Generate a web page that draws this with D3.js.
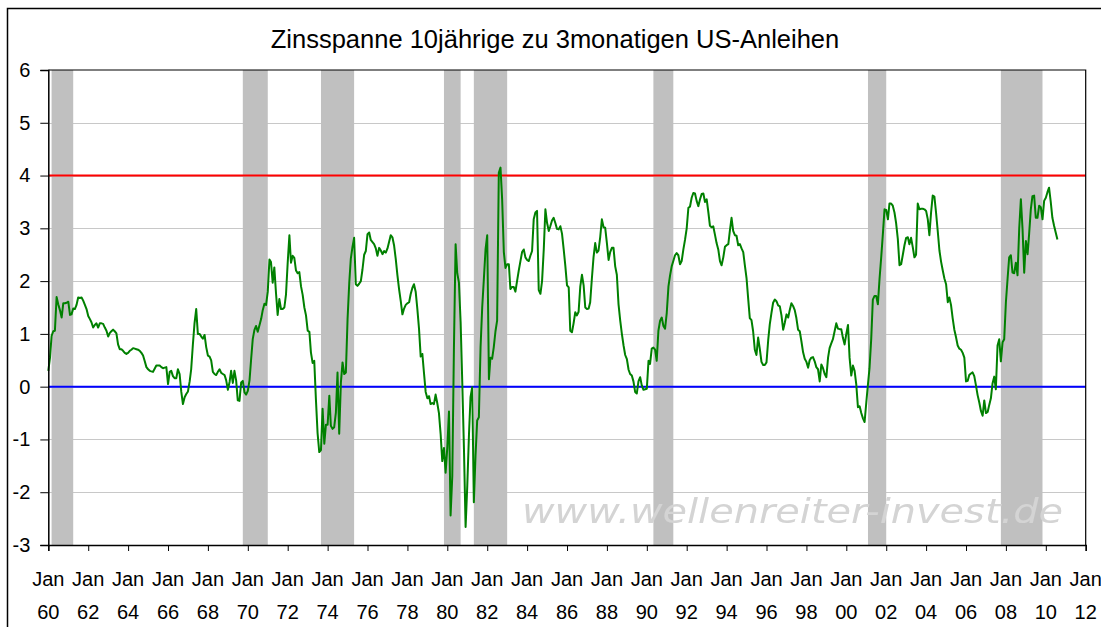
<!DOCTYPE html>
<html>
<head>
<meta charset="utf-8">
<script src="https://cdn.jsdelivr.net/npm/d3@7"></script>
<style>
  body { margin: 0; background: #fff; }
  svg { display: block; }
  text { font-family: "Liberation Sans", Arial, sans-serif; fill: #000; }
</style>
</head>
<body>
<div id="chart"></div>
<script>
// spread 10y minus 3m US treasuries, monthly values
const title = "Zinsspanne 10jährige zu 3monatigen US-Anleihen";
const firstMonth = "1960-01";

const spread1960s = [
  0.30, 0.55, 0.96, 1.05, 1.06, 1.70, 1.56, 1.45, 1.31, 1.58, 1.58, 1.59,
  1.61, 1.36, 1.37, 1.48, 1.47, 1.55, 1.69, 1.68, 1.69, 1.63, 1.55, 1.47,
  1.34, 1.28, 1.22, 1.12, 1.17, 1.20, 1.12, 1.20, 1.20, 1.19, 1.12, 1.06,
  0.95, 1.02, 1.05, 1.08, 1.05, 1.01, 0.80, 0.71, 0.71, 0.68, 0.64, 0.62,
  0.64, 0.68, 0.70, 0.73, 0.72, 0.71, 0.70, 0.68, 0.64, 0.59, 0.48, 0.37,
  0.33, 0.30, 0.29, 0.28, 0.34, 0.40, 0.40, 0.40, 0.37, 0.35, 0.36, 0.37,
  0.05, 0.28, 0.30, 0.20, 0.16, 0.16, 0.33, 0.24, -0.10, -0.33, -0.20, -0.14,
  -0.09, 0.10, 0.33, 0.80, 1.20, 1.47, 1.00, 1.00, 0.95, 0.91, 0.98, 0.75,
  0.59, 0.57, 0.50, 0.28, 0.24, 0.22, 0.28, 0.33, 0.26, 0.24, 0.22, 0.12,
  -0.06, 0.09, 0.30, 0.07, 0.30, 0.12, -0.26, -0.27, 0.08, 0.11, -0.11, -0.15
];
const spread1970s = [
  -0.08, 0.12, 0.50, 0.90, 1.07, 1.15, 1.04, 1.16, 1.28, 1.45, 1.57, 1.55,
  1.80, 2.41, 2.36, 1.97, 2.26, 1.77, 1.36, 1.66, 1.47, 1.47, 1.50, 1.75,
  2.35, 2.87, 2.35, 2.48, 2.44, 2.20, 2.15, 2.17, 1.90, 1.74, 1.50, 1.35,
  1.06, 1.04, 0.65, 0.45, 0.49, -0.25, -0.88, -1.24, -1.20, -0.42, -1.08, -0.72,
  -0.72, -0.17, -0.74, -0.80, -0.77, -0.49, 0.27, -0.89, 0.08, 0.46, 0.24, 0.27,
  1.28, 1.97, 2.42, 2.65, 2.82, 1.94, 1.91, 1.95, 2.00, 2.22, 2.50, 2.57,
  2.89, 2.92, 2.78, 2.74, 2.70, 2.62, 2.48, 2.63, 2.58, 2.51, 2.57, 2.54,
  2.62, 2.75, 2.87, 2.83, 2.68, 2.42, 2.12, 1.85, 1.62, 1.37, 1.48, 1.55,
  1.58, 1.60, 1.75, 1.87, 1.94, 1.80, 1.48, 1.10, 0.57, 0.62, 0.25, -0.10,
  -0.22, -0.18, -0.33, -0.31, -0.33, -0.15, -0.31, -0.50, -0.90, -1.41, -1.16, -1.63
];
const spread1980s = [
  -1.15, -0.47, -2.44, -1.70, 0.70, 2.70, 2.15, 1.97, 1.22, 0.08, -1.18, -2.66,
  -1.87, -0.90, -0.20, -0.01, -2.19, -1.30, -0.64, -0.58, 0.75, 1.50, 2.05, 2.60,
  2.87, 0.14, 0.55, 0.53, 0.75, 1.05, 1.25, 4.05, 4.15, 3.55, 2.55, 2.25,
  2.32, 2.32, 1.85, 1.89, 1.89, 1.80, 2.00, 2.20, 2.38, 2.55, 2.60, 2.45,
  2.40, 2.38, 2.48, 2.57, 3.17, 3.30, 3.33, 1.83, 1.76, 2.00, 2.60, 3.36,
  3.10, 2.95, 3.04, 3.15, 3.20, 3.10, 2.99, 2.98, 3.04, 2.90, 2.60, 2.29,
  1.92, 1.88, 1.06, 1.03, 1.20, 1.41, 1.35, 1.42, 1.90, 2.12, 1.92, 1.50,
  1.47, 1.48, 1.60, 2.05, 2.45, 2.72, 2.54, 2.58, 2.84, 3.17, 3.02, 3.01,
  2.72, 2.40, 2.55, 2.63, 2.63, 2.28, 2.12, 1.56, 1.25, 1.00, 0.78, 0.60,
  0.52, 0.32, 0.24, 0.21, 0.10, -0.10, -0.13, 0.10, 0.18, 0.02, -0.06, -0.05
];
const spread1990s = [
  -0.04, 0.49, 0.43, 0.72, 0.74, 0.70, 0.49, 1.06, 1.25, 1.31, 1.15, 1.10,
  1.40, 1.90, 2.10, 2.28, 2.38, 2.49, 2.53, 2.49, 2.32, 2.38, 2.60, 2.78,
  3.00, 3.39, 3.41, 3.58, 3.67, 3.66, 3.52, 3.42, 3.55, 3.65, 3.66, 3.50,
  3.55, 3.30, 3.05, 3.02, 3.04, 2.88, 2.72, 2.60, 2.38, 2.30, 2.45, 2.65,
  2.68, 2.70, 2.95, 3.20, 2.95, 2.87, 2.86, 2.68, 2.70, 2.62, 2.55, 2.30,
  2.05, 1.65, 1.30, 1.26, 1.05, 0.70, 0.60, 0.93, 0.71, 0.47, 0.41, 0.41,
  0.46, 0.88, 1.18, 1.40, 1.59, 1.65, 1.62, 1.54, 1.52, 1.35, 1.08, 1.21,
  1.37, 1.31, 1.45, 1.58, 1.53, 1.45, 1.30, 1.08, 1.05, 0.86, 0.65, 0.53,
  0.47, 0.36, 0.50, 0.55, 0.56, 0.48, 0.37, 0.33, 0.10, 0.42, 0.35, 0.24,
  0.18, 0.55, 0.73, 0.82, 0.90, 1.05, 1.20, 1.10, 1.09, 1.09, 0.92, 0.80
];
const spread2000s = [
  1.00, 1.17, 0.55, 0.21, 0.40, 0.30, 0.05, -0.39, -0.37, -0.50, -0.60, -0.67,
  -0.30, 0.05, 0.35, 0.90, 1.65, 1.72, 1.72, 1.56, 2.05, 2.45, 2.90, 3.36,
  3.35, 3.17, 3.47, 3.47, 3.43, 3.30, 3.10, 2.80, 2.30, 2.32, 2.50, 2.68,
  2.82, 2.83, 2.70, 2.82, 2.65, 2.45, 2.50, 3.47, 3.36, 3.37, 3.37, 3.36,
  3.33, 3.17, 2.87, 3.30, 3.62, 3.60, 3.30, 2.95, 2.58, 2.37, 2.20, 2.05,
  1.94, 1.60, 1.69, 1.55, 1.30, 1.08, 0.94, 0.78, 0.72, 0.70, 0.64, 0.55,
  0.10, 0.11, 0.22, 0.25, 0.27, 0.20, 0.03, -0.16, -0.30, -0.46, -0.55, -0.26,
  -0.50, -0.48, -0.35, -0.22, 0.06, 0.19, -0.05, 0.78, 0.90, 0.48, 0.84, 0.90,
  1.60, 2.05, 2.45, 2.49, 2.16, 2.15, 2.35, 2.11, 3.00, 3.55, 2.98, 2.16,
  2.76, 2.51, 2.89, 3.36, 3.61, 3.62, 3.20, 3.20, 3.43, 3.40, 3.17, 3.52
];
const spread2010s = [3.58, 3.69, 3.77, 3.50, 3.20, 3.05, 2.92, 2.79];

// shaded recession periods (start, end)
const recessions = [
  ["1960-03", "1961-04"],
  ["1969-10", "1971-01"],
  ["1973-09", "1975-05"],
  ["1979-11", "1980-09"],
  ["1981-05", "1983-01"],
  ["1990-05", "1991-05"],
  ["2001-02", "2002-01"],
  ["2007-10", "2009-11"]
];

const refLevels = [4, 0];
const yTicks = [-3, -2, -1, 0, 1, 2, 3, 4, 5, 6];
const xRange = ["1960-01", "2012-01"];
const watermark = "www.wellenreiter-invest.de";

const width = 1101, height = 627;
const parseMonth = d3.timeParse("%Y-%m");

const spread = [].concat(spread1960s, spread1970s, spread1980s, spread1990s, spread2000s, spread2010s);
const start = parseMonth(firstMonth);
const data = spread.map((v, i) => ({ date: d3.timeMonth.offset(start, i), value: v }));

const x = d3.scaleTime()
  .domain(xRange.map(parseMonth))
  .range([48.3, 1085.7]);
const y = d3.scaleLinear()
  .domain([-3, 6])
  .range([545, 70]);

const svg = d3.select("#chart").append("svg")
  .attr("width", width)
  .attr("height", height);

svg.append("rect").attr("width", width).attr("height", height).attr("fill", "#fff");

// soft blur for the watermark
svg.append("defs").append("filter")
  .attr("id", "soft")
  .append("feGaussianBlur")
  .attr("stdDeviation", 0.6);

// outer chart border (only left & top visible)
svg.append("path")
  .attr("d", `M7.5,${height} V8.5 H${width}`)
  .attr("fill", "none")
  .attr("stroke", "#000")
  .attr("stroke-width", 1.5);

// title
svg.append("text")
  .attr("x", 555)
  .attr("y", 48)
  .attr("text-anchor", "middle")
  .style("font-size", "25.5px")
  .text(title);

const plot = svg.append("g");

// gridlines
plot.selectAll(".grid")
  .data(yTicks.filter(d => d > -3 && d < 6))
  .enter().append("line")
  .attr("class", "grid")
  .attr("x1", x.range()[0]).attr("x2", x.range()[1])
  .attr("y1", d => Math.round(y(d)) + 0.5).attr("y2", d => Math.round(y(d)) + 0.5)
  .attr("stroke", "#c8c8c8")
  .attr("stroke-width", 1);

// watermark
svg.append("text")
  .attr("x", 522)
  .attr("y", 523)
  .attr("textLength", 541)
  .attr("lengthAdjust", "spacingAndGlyphs")
  .attr("filter", "url(#soft)")
  .style("font-family", "'DejaVu Sans', Verdana, sans-serif")
  .style("font-style", "italic")
  .style("font-size", "33px")
  .style("fill", "#d4d4d4")
  .text(watermark);

// recession bars
plot.selectAll(".rec")
  .data(recessions)
  .enter().append("rect")
  .attr("class", "rec")
  .attr("x", d => x(parseMonth(d[0])))
  .attr("width", d => x(parseMonth(d[1])) - x(parseMonth(d[0])))
  .attr("y", y(6))
  .attr("height", y(-3) - y(6))
  .attr("fill", "#c0c0c0");

// reference lines at 4 and 0
const refColors = ["#ff0000", "#0000ff"];
plot.selectAll(".ref")
  .data(refLevels)
  .enter().append("line")
  .attr("class", "ref")
  .attr("x1", x.range()[0]).attr("x2", x.range()[1])
  .attr("y1", d => y(d)).attr("y2", d => y(d))
  .attr("stroke", (d, i) => refColors[i])
  .attr("stroke-width", 2);

// spread line
const line = d3.line()
  .x(d => x(d.date))
  .y(d => y(d.value));

plot.append("path")
  .datum(data)
  .attr("fill", "none")
  .attr("stroke", "#008000")
  .attr("stroke-width", 2)
  .attr("stroke-linejoin", "round")
  .attr("d", line);

// plot area frame (top + right)
svg.append("path")
  .attr("d", `M${x.range()[0]},${y(6)} H${x.range()[1]} V${y(-3)}`)
  .attr("fill", "none")
  .attr("stroke", "#000")
  .attr("stroke-width", 1.2);

// y axis
const yAxis = svg.append("g")
  .attr("transform", `translate(${x.range()[0]},0)`)
  .call(d3.axisLeft(y).tickValues(yTicks).tickSize(8).tickPadding(10).tickFormat(d => String(d)));
yAxis.select(".domain").attr("stroke", "#000").attr("stroke-width", 1.5);
yAxis.selectAll(".tick line").attr("stroke", "#000");
yAxis.selectAll(".tick text")
  .style("font-family", "'Liberation Sans', Arial, sans-serif")
  .style("font-size", "20px")
  .attr("fill", "#000");

// x axis
const xAxis = svg.append("g")
  .attr("transform", `translate(0,${y(-3)})`)
  .call(d3.axisBottom(x).ticks(d3.timeYear.every(2)).tickSize(6).tickFormat(""));
xAxis.select(".domain").attr("stroke", "#000").attr("stroke-width", 1.5);
xAxis.selectAll(".tick line").attr("stroke", "#000");

const yearFmt = d3.timeFormat("%y");
const monthFmt = d3.timeFormat("%b");
const labels = svg.append("g")
  .selectAll("text")
  .data(x.ticks(d3.timeYear.every(2)))
  .enter().append("text")
  .attr("text-anchor", "middle")
  .style("font-size", "20px");
labels.append("tspan")
  .attr("x", d => x(d))
  .attr("y", 586)
  .text(d => monthFmt(d));
labels.append("tspan")
  .attr("x", d => x(d))
  .attr("y", 619)
  .text(d => yearFmt(d));
</script>
</body>
</html>
